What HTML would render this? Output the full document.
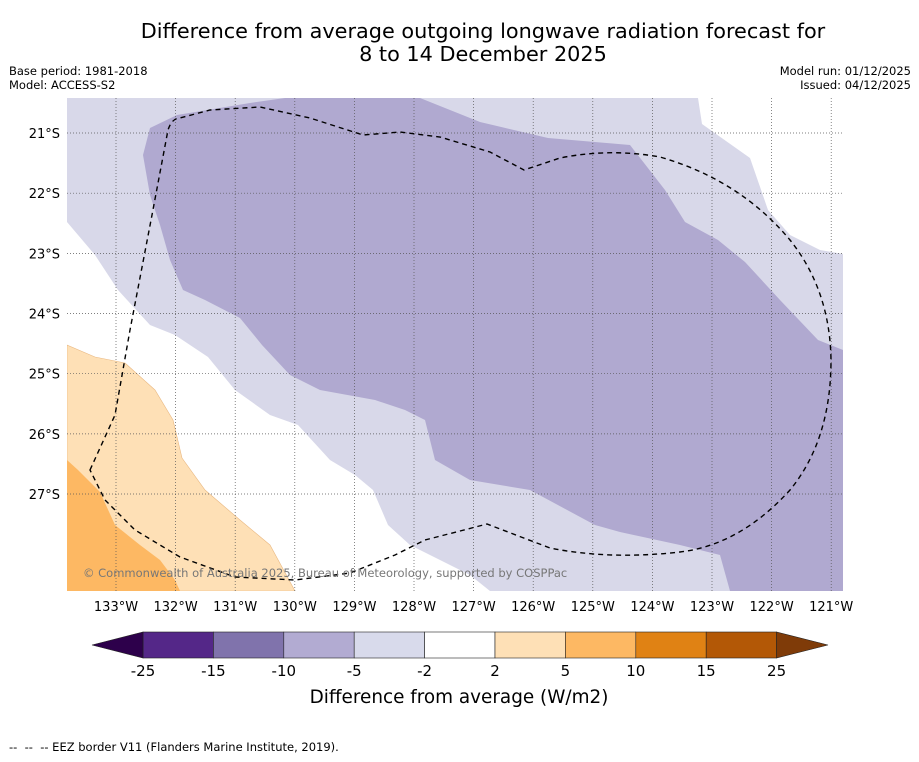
<!DOCTYPE html>
<html><head><meta charset="utf-8"><style>
body{margin:0;background:#fff;font-family:"DejaVu Sans","Liberation Sans",sans-serif;}
svg text{font-family:"DejaVu Sans","Liberation Sans",sans-serif;}
</style></head><body>
<svg width="919" height="758" viewBox="0 0 919 758" xmlns="http://www.w3.org/2000/svg">
<text x="483" y="38" font-size="20.8" text-anchor="middle">Difference from average outgoing longwave radiation forecast for</text>
<text x="483" y="61" font-size="20.8" text-anchor="middle">8 to 14 December 2025</text>
<text x="9" y="75" font-size="11.5">Base period: 1981-2018</text>
<text x="9" y="89" font-size="11.5">Model: ACCESS-S2</text>
<text x="911" y="75" font-size="11.5" text-anchor="end">Model run: 01/12/2025</text>
<text x="911" y="89" font-size="11.5" text-anchor="end">Issued: 04/12/2025</text>
<defs><clipPath id="mapclip"><rect x="67" y="98" width="776" height="493"/></clipPath></defs>
<g clip-path="url(#mapclip)">
<rect x="67" y="98" width="776" height="493" fill="#fff"/>
<polygon fill="#d8d8e9" points="67,98 698,98 702,124 750,158 768,210 790,235 820,250 843,254 843,591 490,591 470,575 440,560 410,545 388,525 373,490 355,475 330,460 298,425 270,415 235,390 208,357 175,335 150,325 118,290 95,255 67,222"/>
<polygon fill="#b0a9d0" points="150,128 177,115 250,103 285,98 420,98 480,122 548,138 630,145 665,190 685,222 718,240 745,262 780,300 818,340 843,350 843,591 730,591 720,555 680,545 620,532 595,525 530,490 470,480 435,460 425,420 405,410 375,400 320,390 290,375 262,345 240,318 205,300 183,290 170,260 160,225 150,195 143,155"/>
<polygon fill="#fee0b6" stroke="#e9b882" stroke-width="0.6" points="67,345 95,357 125,363 155,390 173,420 182,458 205,490 240,520 270,545 295,591 67,591"/>
<polygon fill="#fdb863" points="67,460 78,470 100,492 115,525 140,545 160,560 175,580 180,591 67,591"/>
<g id="grid"></g>
<path fill="none" stroke="#000" stroke-width="1.4" stroke-dasharray="5,4" d="M90,470 L115,415 L130,330 L152,215 L168,130 Q172,118 180,118 L210,110 L260,107 L310,118 L363,135 L400,132 L440,137 L490,152 L524,170 L560,158 Q610,148 660,157 Q740,180 790,240 Q830,290 831,360 Q831,440 790,490 Q740,545 680,552 Q610,560 550,548 L487,524 L460,531 L425,540 L395,555 L350,573 L295,580 L235,577 L180,557 L135,530 L105,500 Z"/>
<text x="83" y="577" font-size="11.5" fill="#777">© Commonwealth of Australia 2025, Bureau of Meteorology, supported by COSPPac</text>
</g>
<g id="axes"></g>
<g id="cbar"></g>
<text x="459" y="703" font-size="18.4" text-anchor="middle">Difference from average (W/m2)</text>
<text x="9" y="751" font-size="11.5" xml:space="preserve">--  --  -- EEZ border V11 (Flanders Marine Institute, 2019).</text>
</svg>
<script>
const lonTicks=[133,132,131,130,129,128,127,126,125,124,123,122,121];
const latTicks=[21,22,23,24,25,26,27];
const cbarLevels=[-25,-15,-10,-5,-2,2,5,10,15,25];
const cbarColors=["#542788","#8073ac","#b2abd2","#d8daeb","#ffffff","#fee0b6","#fdb863","#e08214","#b35806"];
const NS="http://www.w3.org/2000/svg";
function xLon(l){return 116+(133-l)*59.6;}
function yLat(l){return 133+(l-21)*60.17;}
function mk(t,a,p){const e=document.createElementNS(NS,t);for(const k in a)e.setAttribute(k,a[k]);p.appendChild(e);return e;}
const grid=document.getElementById('grid'),axes=document.getElementById('axes'),cbar=document.getElementById('cbar');
lonTicks.forEach(l=>{const x=xLon(l);
const ln=mk('line',{x1:x,x2:x,y1:98,y2:591,stroke:'#555','stroke-width':0.7,'stroke-dasharray':'1,2'},grid);


const t=mk('text',{x:x,y:611,'font-size':13,'text-anchor':'middle'},axes);t.textContent=l+'°W';

});
latTicks.forEach(l=>{const y=yLat(l);
const ln=mk('line',{x1:67,x2:843,y1:y,y2:y,stroke:'#555','stroke-width':0.7,'stroke-dasharray':'1,2'},grid);


const t=mk('text',{x:60,y:y+5,'font-size':13,'text-anchor':'end'},axes);t.textContent=l+'°S';

});
const cx0=143,cw=70.4,cy=632,ch=26;
cbarColors.forEach((c,i)=>{const r=mk('rect',{x:cx0+i*cw,y:cy,width:cw,height:ch,fill:c,stroke:'#222','stroke-width':0.6},cbar);

});
const lt=mk('polygon',{points:`${cx0},${cy} ${cx0},${cy+ch} 92,${cy+ch/2}`,fill:'#2d004b',stroke:'#222','stroke-width':0.6},cbar);


const xe=cx0+cbarColors.length*cw;
const rt=mk('polygon',{points:`${xe},${cy} ${xe},${cy+ch} 828,${cy+ch/2}`,fill:'#7f3b08',stroke:'#222','stroke-width':0.6},cbar);


cbarLevels.forEach((v,i)=>{const t=mk('text',{x:cx0+i*cw,y:676,'font-size':15,'text-anchor':'middle'},cbar);t.textContent=v;

});
</script>
</body></html>
